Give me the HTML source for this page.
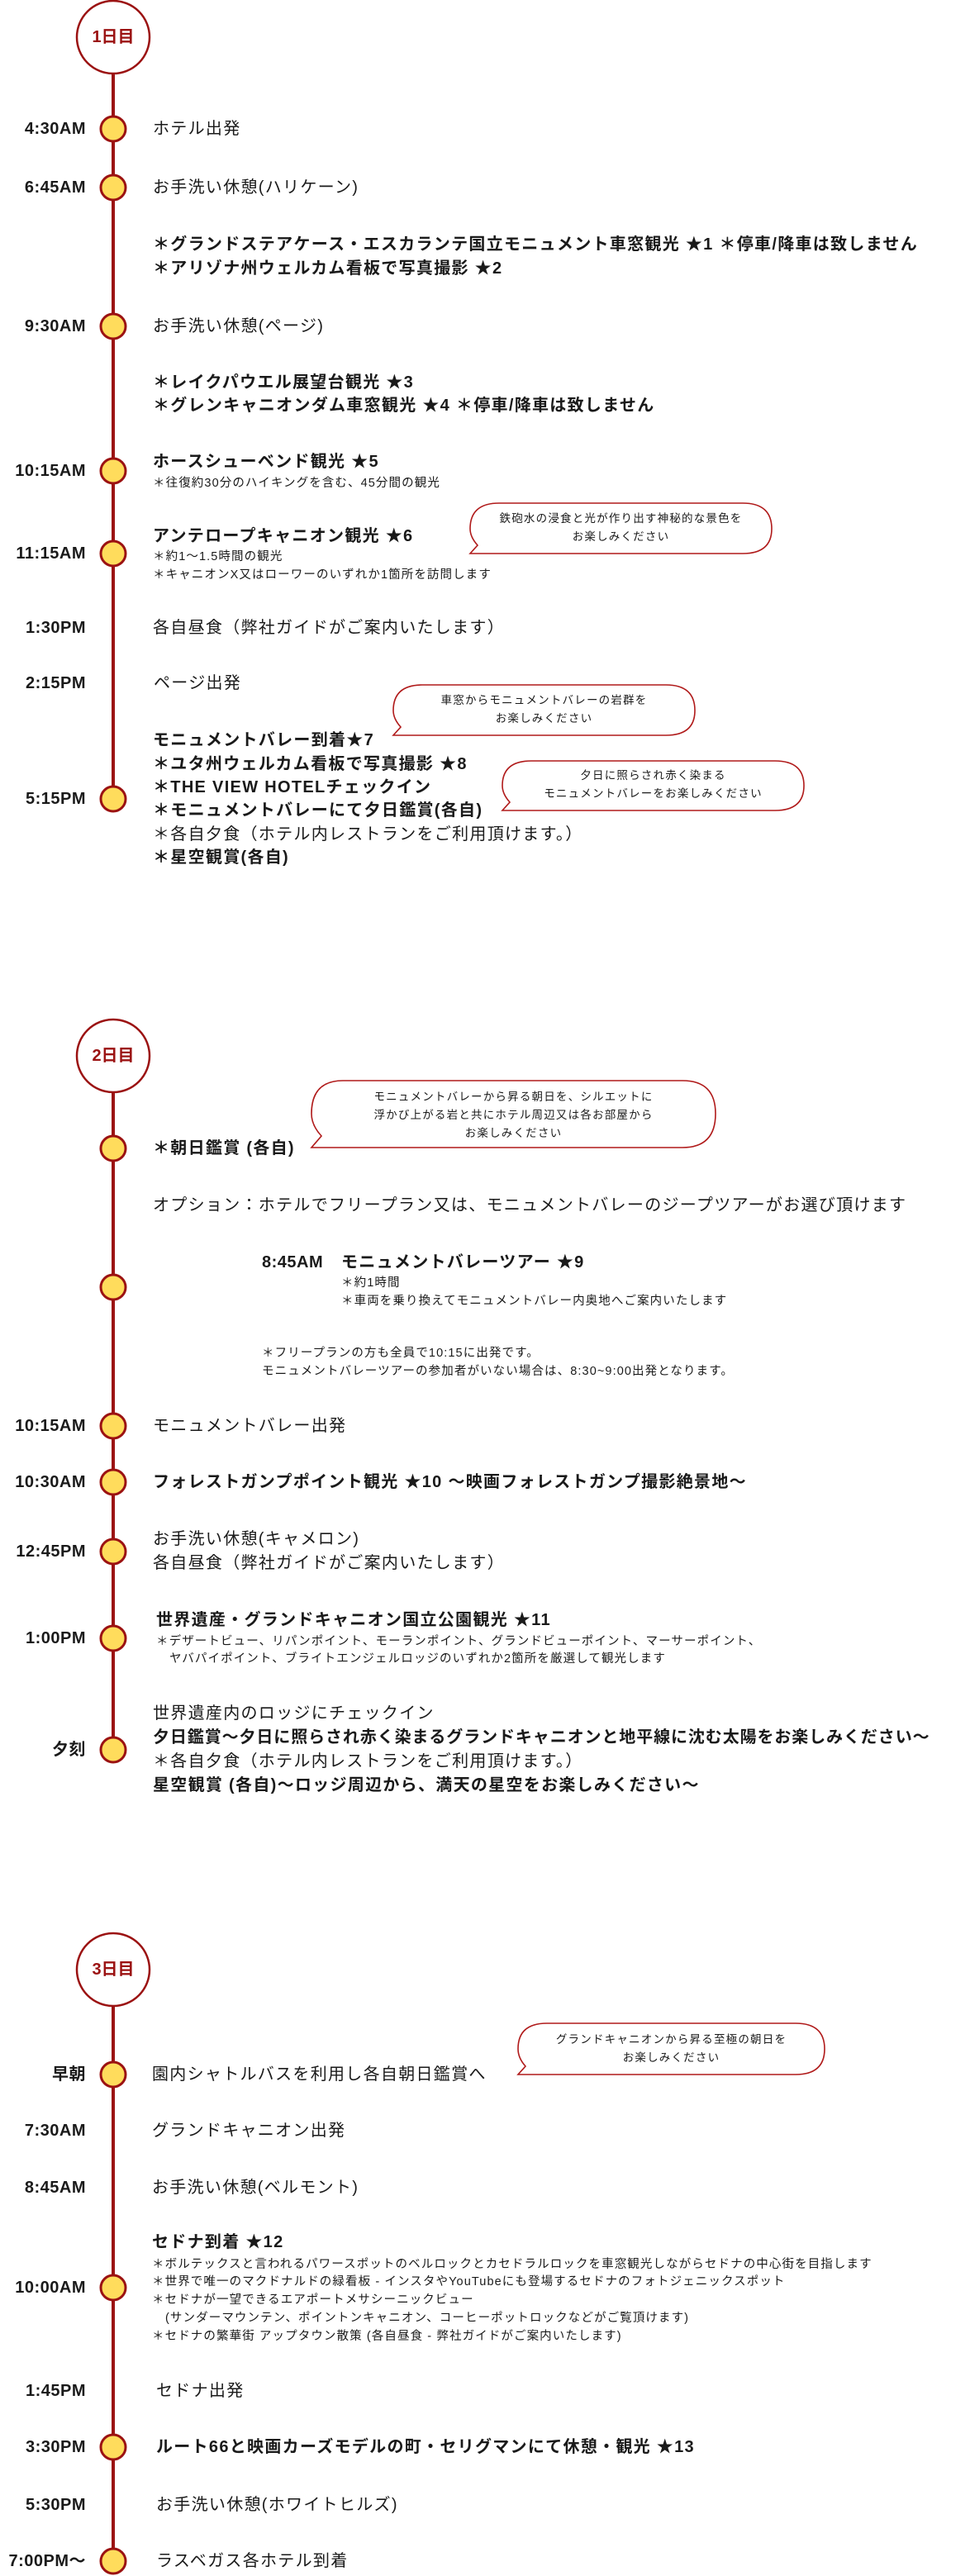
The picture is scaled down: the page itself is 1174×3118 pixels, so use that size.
<!DOCTYPE html>
<html><head><meta charset="utf-8">
<style>
html,body{margin:0;padding:0;background:#fff;}
body{width:1174px;height:3118px;position:relative;overflow:hidden;font-family:"Liberation Sans","Noto Sans CJK JP",sans-serif;color:#1a1a1a;}
.t{position:absolute;white-space:nowrap;height:26px;line-height:26px;font-size:20px;letter-spacing:1.3px;}
.b{font-weight:bold;}
.s{font-size:14.5px;letter-spacing:1.1px;height:22px;line-height:22px;}
.tm{position:absolute;right:1070px;white-space:nowrap;height:26px;line-height:26px;font-size:20px;font-weight:bold;letter-spacing:0.5px;text-align:right;}
.bt{position:absolute;white-space:nowrap;font-size:13.5px;letter-spacing:1.2px;height:20px;line-height:20px;text-align:center;}
svg{position:absolute;left:0;top:0;}
</style></head><body>
<svg width="1174" height="3118" viewBox="0 0 1174 3118">
<g stroke="#9b1212" stroke-width="4">
<line x1="137" y1="90" x2="137" y2="967"/>
<line x1="137" y1="1323" x2="137" y2="2118"/>
<line x1="137" y1="2429" x2="137" y2="3100"/>
</g>
<g fill="#fff" stroke="#9b1212" stroke-width="2.5">
<circle cx="137" cy="45" r="44"/>
<circle cx="137" cy="1278" r="44"/>
<circle cx="137" cy="2384" r="44"/>
</g>
<g fill="#ffdc5c" stroke="#9b1212" stroke-width="3">
<circle cx="137" cy="156" r="15"/><circle cx="137" cy="227" r="15"/><circle cx="137" cy="395" r="15"/>
<circle cx="137" cy="570" r="15"/><circle cx="137" cy="670" r="15"/><circle cx="137" cy="967" r="15"/>
<circle cx="137" cy="1390" r="15"/><circle cx="137" cy="1558" r="15"/><circle cx="137" cy="1726" r="15"/>
<circle cx="137" cy="1794" r="15"/><circle cx="137" cy="1878" r="15"/><circle cx="137" cy="1983" r="15"/>
<circle cx="137" cy="2118" r="15"/>
<circle cx="137" cy="2511" r="15"/><circle cx="137" cy="2769" r="15"/><circle cx="137" cy="2962" r="15"/><circle cx="137" cy="3100" r="15"/>
</g>
<g fill="#fff" stroke="#b01a1a" stroke-width="1.6">
<path d="M604,609 H899 Q934,609 934,640 Q934,670 899,670 H596 L569,670 L578,660 Q569,650 569,640 Q569,609 604,609 Z"/>
<path d="M511,829 H806 Q841,829 841,860 Q841,890 806,890 H503 L476,890 L485,880 Q476,870 476,860 Q476,829 511,829 Z"/>
<path d="M643,921 H938 Q973,921 973,951 Q973,981 938,981 H635 L608,981 L617,971 Q608,961 608,951 Q608,921 643,921 Z"/>
<path d="M415,1308 H826 Q866,1308 866,1348 Q866,1389 826,1389 H400 L377,1389 L389,1375 Q377,1362 377,1348 Q377,1308 415,1308 Z"/>
<path d="M662,2449 H963 Q998,2449 998,2480 Q998,2511 963,2511 H654 L627,2511 L636,2501 Q627,2491 627,2480 Q627,2449 662,2449 Z"/>
</g>
</svg>

<div class="t b" style="left:93px;width:88px;text-align:center;top:32px;color:#9b1212;letter-spacing:0">1日目</div>
<div class="t b" style="left:93px;width:88px;text-align:center;top:1265px;color:#9b1212;letter-spacing:0">2日目</div>
<div class="t b" style="left:93px;width:88px;text-align:center;top:2371px;color:#9b1212;letter-spacing:0">3日目</div>

<div class="tm" style="top:143px">4:30AM</div>
<div class="tm" style="top:214px">6:45AM</div>
<div class="tm" style="top:382px">9:30AM</div>
<div class="tm" style="top:557px">10:15AM</div>
<div class="tm" style="top:657px">11:15AM</div>
<div class="tm" style="top:747px">1:30PM</div>
<div class="tm" style="top:814px">2:15PM</div>
<div class="tm" style="top:954px">5:15PM</div>

<div class="t" style="left:185px;top:143px">ホテル出発</div>
<div class="t" style="left:185px;top:214px">お手洗い休憩(ハリケーン)</div>
<div class="t b" style="left:185px;top:283px">＊グランドステアケース・エスカランテ国立モニュメント車窓観光 ★1 ＊停車/降車は致しません</div>
<div class="t b" style="left:185px;top:312px">＊アリゾナ州ウェルカム看板で写真撮影 ★2</div>
<div class="t" style="left:185px;top:382px">お手洗い休憩(ページ)</div>
<div class="t b" style="left:185px;top:450px">＊レイクパウエル展望台観光 ★3</div>
<div class="t b" style="left:185px;top:478px">＊グレンキャニオンダム車窓観光 ★4 ＊停車/降車は致しません</div>
<div class="t b" style="left:185px;top:546px">ホースシューベンド観光 ★5</div>
<div class="t s" style="left:185px;top:574px">＊往復約30分のハイキングを含む、45分間の観光</div>
<div class="t b" style="left:185px;top:636px">アンテロープキャニオン観光 ★6</div>
<div class="t s" style="left:185px;top:663px">＊約1〜1.5時間の観光</div>
<div class="t s" style="left:185px;top:685px">＊キャニオンX又はローワーのいずれか1箇所を訪問します</div>
<div class="t" style="left:185px;top:747px">各自昼食（弊社ガイドがご案内いたします）</div>
<div class="t" style="left:186px;top:814px">ページ出発</div>
<div class="t b" style="left:185px;top:883px">モニュメントバレー到着★7</div>
<div class="t b" style="left:185px;top:912px">＊ユタ州ウェルカム看板で写真撮影 ★8</div>
<div class="t b" style="left:185px;top:940px">＊THE VIEW HOTELチェックイン</div>
<div class="t b" style="left:185px;top:968px">＊モニュメントバレーにて夕日鑑賞(各自)</div>
<div class="t" style="left:185px;top:997px">＊各自夕食（ホテル内レストランをご利用頂けます。）</div>
<div class="t b" style="left:185px;top:1025px">＊星空観賞(各自)</div>

<div class="bt" style="left:569px;width:365px;top:618px">鉄砲水の浸食と光が作り出す神秘的な景色を</div>
<div class="bt" style="left:569px;width:365px;top:640px">お楽しみください</div>
<div class="bt" style="left:476px;width:365px;top:838px">車窓からモニュメントバレーの岩群を</div>
<div class="bt" style="left:476px;width:365px;top:860px">お楽しみください</div>
<div class="bt" style="left:608px;width:365px;top:929px">夕日に照らされ赤く染まる</div>
<div class="bt" style="left:608px;width:365px;top:951px">モニュメントバレーをお楽しみください</div>

<div class="t b" style="left:185px;top:1377px">＊朝日鑑賞 (各自)</div>
<div class="bt" style="left:377px;width:489px;top:1318px">モニュメントバレーから昇る朝日を、シルエットに</div>
<div class="bt" style="left:377px;width:489px;top:1340px">浮かび上がる岩と共にホテル周辺又は各お部屋から</div>
<div class="bt" style="left:377px;width:489px;top:1362px">お楽しみください</div>
<div class="t" style="left:185px;top:1446px">オプション：ホテルでフリープラン又は、モニュメントバレーのジープツアーがお選び頂けます</div>
<div class="t b" style="left:317px;top:1515px;letter-spacing:0.5px">8:45AM</div>
<div class="t b" style="left:413px;top:1515px">モニュメントバレーツアー ★9</div>
<div class="t s" style="left:413px;top:1542px">＊約1時間</div>
<div class="t s" style="left:413px;top:1564px">＊車両を乗り換えてモニュメントバレー内奥地へご案内いたします</div>
<div class="t s" style="left:317px;top:1627px">＊フリープランの方も全員で10:15に出発です。</div>
<div class="t s" style="left:317px;top:1649px">モニュメントバレーツアーの参加者がいない場合は、8:30~9:00出発となります。</div>

<div class="tm" style="top:1713px">10:15AM</div>
<div class="tm" style="top:1781px">10:30AM</div>
<div class="tm" style="top:1865px">12:45PM</div>
<div class="tm" style="top:1970px">1:00PM</div>
<div class="tm" style="top:2105px">夕刻</div>
<div class="t" style="left:185px;top:1713px">モニュメントバレー出発</div>
<div class="t b" style="left:185px;top:1781px">フォレストガンプポイント観光 ★10 〜映画フォレストガンプ撮影絶景地〜</div>
<div class="t" style="left:185px;top:1850px">お手洗い休憩(キャメロン)</div>
<div class="t" style="left:185px;top:1879px">各自昼食（弊社ガイドがご案内いたします）</div>
<div class="t b" style="left:189px;top:1948px">世界遺産・グランドキャニオン国立公園観光 ★11</div>
<div class="t s" style="left:189px;top:1976px">＊デザートビュー、リパンポイント、モーランポイント、グランドビューポイント、マーサーポイント、</div>
<div class="t s" style="left:205px;top:1997px">ヤバパイポイント、ブライトエンジェルロッジのいずれか2箇所を厳選して観光します</div>
<div class="t" style="left:185px;top:2061px">世界遺産内のロッジにチェックイン</div>
<div class="t b" style="left:185px;top:2090px;letter-spacing:0.9px">夕日鑑賞〜夕日に照らされ赤く染まるグランドキャニオンと地平線に沈む太陽をお楽しみください〜</div>
<div class="t" style="left:185px;top:2119px">＊各自夕食（ホテル内レストランをご利用頂けます。）</div>
<div class="t b" style="left:185px;top:2148px">星空観賞 (各自)〜ロッジ周辺から、満天の星空をお楽しみください〜</div>

<div class="tm" style="top:2498px">早朝</div>
<div class="tm" style="top:2566px">7:30AM</div>
<div class="tm" style="top:2635px">8:45AM</div>
<div class="tm" style="top:2756px">10:00AM</div>
<div class="tm" style="top:2881px">1:45PM</div>
<div class="tm" style="top:2949px">3:30PM</div>
<div class="tm" style="top:3019px">5:30PM</div>
<div class="tm" style="top:3087px">7:00PM〜</div>

<div class="t" style="left:184px;top:2498px">園内シャトルバスを利用し各自朝日鑑賞へ</div>
<div class="bt" style="left:627px;width:371px;top:2459px">グランドキャニオンから昇る至極の朝日を</div>
<div class="bt" style="left:627px;width:371px;top:2481px">お楽しみください</div>
<div class="t" style="left:184px;top:2566px">グランドキャニオン出発</div>
<div class="t" style="left:184px;top:2635px">お手洗い休憩(ベルモント)</div>
<div class="t b" style="left:184px;top:2701px">セドナ到着 ★12</div>
<div class="t s" style="left:184px;top:2730px">＊ボルテックスと言われるパワースポットのベルロックとカセドラルロックを車窓観光しながらセドナの中心街を目指します</div>
<div class="t s" style="left:184px;top:2751px">＊世界で唯一のマクドナルドの緑看板 - インスタやYouTubeにも登場するセドナのフォトジェニックスポット</div>
<div class="t s" style="left:184px;top:2773px">＊セドナが一望できるエアポートメサシーニックビュー</div>
<div class="t s" style="left:200px;top:2795px">(サンダーマウンテン、ポイントンキャニオン、コーヒーポットロックなどがご覧頂けます)</div>
<div class="t s" style="left:184px;top:2817px">＊セドナの繁華街 アップタウン散策 (各自昼食 - 弊社ガイドがご案内いたします)</div>
<div class="t" style="left:189px;top:2881px">セドナ出発</div>
<div class="t b" style="left:189px;top:2949px">ルート66と映画カーズモデルの町・セリグマンにて休憩・観光 ★13</div>
<div class="t" style="left:189px;top:3019px">お手洗い休憩(ホワイトヒルズ)</div>
<div class="t" style="left:189px;top:3087px">ラスベガス各ホテル到着</div>
</body></html>
